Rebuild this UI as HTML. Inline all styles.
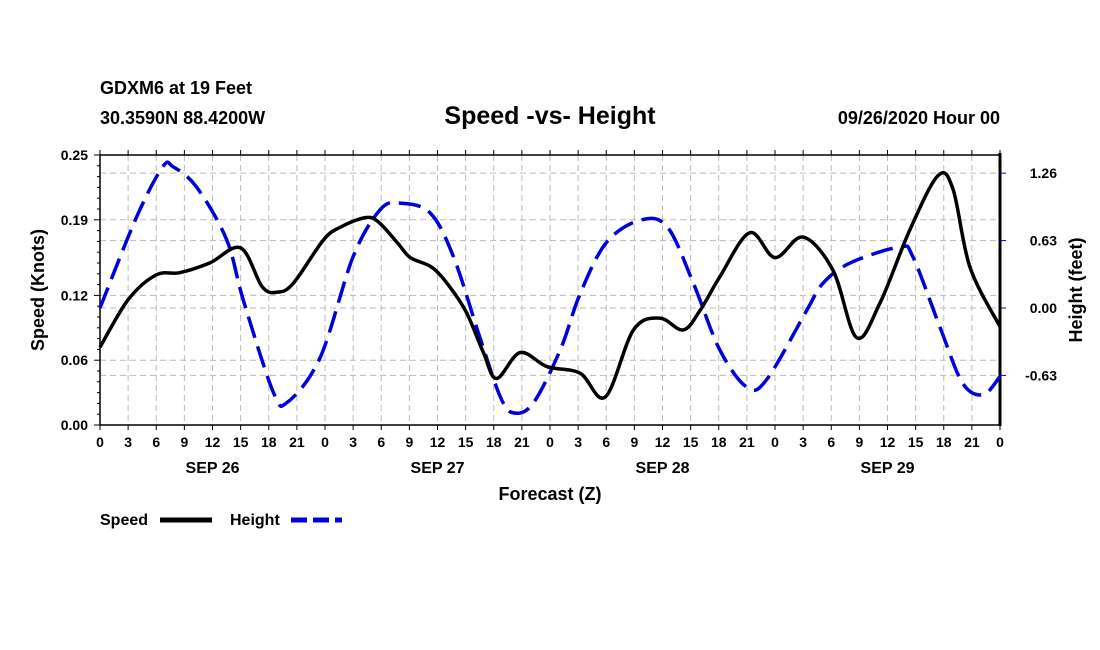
<!DOCTYPE html>
<html><head><meta charset="utf-8"><style>
body{margin:0;background:#fff;}
svg{display:block;font-family:"Liberation Sans",Arial,sans-serif;font-weight:bold;}
</style></head><body>
<svg id="chart" width="1100" height="650" xmlns="http://www.w3.org/2000/svg">
<text x="100" y="94" font-size="18">GDXM6 at 19 Feet</text>
<text x="100" y="124" font-size="18">30.3590N 88.4200W</text>
<text x="550" y="124" font-size="25" text-anchor="middle">Speed -vs- Height</text>
<text x="1000" y="124" font-size="18" text-anchor="end">09/26/2020 Hour 00</text>
<g id="grid"></g>
<g id="axes"></g>
<g id="series"></g>
<text transform="translate(44,290) rotate(-90)" font-size="18" text-anchor="middle">Speed (Knots)</text>
<text transform="translate(1082,290) rotate(-90)" font-size="18" text-anchor="middle">Height (feet)</text>
<text x="550" y="500" font-size="18" text-anchor="middle">Forecast (Z)</text>
<g>
<text x="100" y="525" font-size="16">Speed</text>
<line x1="160" y1="520" x2="212" y2="520" stroke="#000" stroke-width="5"/>
<text x="230" y="525" font-size="16">Height</text>
<line x1="291" y1="520" x2="342" y2="520" stroke="#0000dd" stroke-width="5" stroke-dasharray="16,6"/>
</g>
</svg>
<script>
const speedHours=[0,3,6,8.5,11.7,15,17.3,18.9,20.6,23.8,25.6,28.3,29.7,31.7,33.1,35.4,37.3,39.1,40.9,42.3,44.8,47.7,51.2,53.9,56.9,59.7,62.2,64,66.1,69.3,72,75,78.2,80.7,83.2,86.4,89.4,91,92.8,96];
const speedValues=[0.072,0.116,0.139,0.141,0.150,0.164,0.128,0.123,0.131,0.171,0.183,0.192,0.188,0.169,0.155,0.146,0.128,0.104,0.067,0.043,0.067,0.054,0.048,0.026,0.088,0.099,0.088,0.106,0.137,0.178,0.155,0.174,0.143,0.081,0.113,0.181,0.231,0.218,0.146,0.091];
const heightHours=[0,3.9,6.7,7.8,10.3,13.5,15.3,18.5,20,23.5,27,29.9,32,35.2,37.7,40.5,42.7,44.1,46.2,49.1,51.2,54,57.6,60.5,63.3,66.1,69,71.1,75.4,77.1,80,85.3,86.7,89.6,92,94.2,96];
const heightValues=[0.0,0.85,1.32,1.32,1.13,0.64,0.07,-0.79,-0.88,-0.46,0.48,0.92,0.98,0.89,0.48,-0.27,-0.83,-0.98,-0.89,-0.39,0.13,0.61,0.82,0.76,0.23,-0.39,-0.74,-0.67,-0.02,0.23,0.42,0.57,0.48,-0.18,-0.70,-0.81,-0.64];
const speedTicks=[0.00,0.06,0.12,0.19,0.25];
const speedTickLabels=["0.00","0.06","0.12","0.19","0.25"];
const heightTicks=[-0.63,0,0.63,1.26];
const heightTickLabels=["-0.63","0.00","0.63","1.26"];
const hourTickLabels=["0","3","6","9","12","15","18","21"];
const dayLabels=["SEP 26","SEP 27","SEP 28","SEP 29"];

const X0=100,X1=1000,YT=155,YB=425,H=96;
const xs=h=>X0+(X1-X0)*h/H;
const ySpeed=v=>YB-(YB-YT)*v/0.25;
const yHeight=v=>308-107*v;
const NS="http://www.w3.org/2000/svg";
function mk(tag,attrs,parent,txt){const e=document.createElementNS(NS,tag);for(const k in attrs)e.setAttribute(k,attrs[k]);if(txt!==undefined)e.textContent=txt;parent.appendChild(e);return e;}
const grid=document.getElementById('grid'),axes=document.getElementById('axes'),series=document.getElementById('series');
for(let h=3;h<H;h+=3){const l=mk('line',{x1:xs(h),x2:xs(h),y1:YT,y2:YB,stroke:'#bbb','stroke-dasharray':'6,4'},grid);

}
speedTicks.forEach(v=>{if(v>0&&v<0.25){const l=mk('line',{x1:X0,x2:X1,y1:ySpeed(v),y2:ySpeed(v),stroke:'#bbb','stroke-dasharray':'6,4'},grid);

}});
heightTicks.forEach(v=>{const l=mk('line',{x1:X0,x2:X1,y1:yHeight(v),y2:yHeight(v),stroke:'#bbb','stroke-dasharray':'6,4'},grid);

});
const fr=mk('rect',{x:X0,y:YT,width:X1-X0,height:YB-YT,fill:'none',stroke:'#000','stroke-width':1.5},axes);


const ra=mk('line',{x1:X1,x2:X1,y1:YT-2,y2:YB+1,stroke:'#000','stroke-width':3},axes);


for(let v=0;v<=0.25001;v+=0.01){const major=speedTicks.some(t=>Math.abs(t-v)<1e-6);
const t=mk('line',{x1:X0,x2:X0-(major?6:3),y1:ySpeed(v),y2:ySpeed(v),stroke:'#000','stroke-width':1},axes);

}
speedTicks.forEach((v,i)=>{const t=mk('text',{x:X0-12,y:ySpeed(v)+5,'font-size':14,'text-anchor':'end'},axes,speedTickLabels[i]);

});
heightTicks.forEach((v,i)=>{const l=mk('line',{x1:X1,x2:X1+6,y1:yHeight(v),y2:yHeight(v),stroke:'#00d','stroke-width':1},axes);


const t=mk('text',{x:1057,y:yHeight(v)+5,'font-size':14,'text-anchor':'end'},axes,heightTickLabels[i]);

});
for(let h=0;h<=H;h+=3){
const a=mk('line',{x1:xs(h),x2:xs(h),y1:YB,y2:YB+5,stroke:'#000'},axes);


const b=mk('line',{x1:xs(h),x2:xs(h),y1:YT,y2:YT-5,stroke:'#000'},axes);


const t=mk('text',{x:xs(h),y:YB+22,'font-size':14,'text-anchor':'middle'},axes,hourTickLabels[(h/3)%8]);

}
dayLabels.forEach((d,i)=>{const t=mk('text',{x:xs(i*24+12),y:YB+48,'font-size':16,'text-anchor':'middle'},axes,d);

});
function path(pts){let d=`M${pts[0][0]},${pts[0][1]}`;for(let i=0;i<pts.length-1;i++){const p0=pts[i-1]||pts[i],p1=pts[i],p2=pts[i+1],p3=pts[i+2]||p2;
d+=` C${p1[0]+(p2[0]-p0[0])/6},${p1[1]+(p2[1]-p0[1])/6} ${p2[0]-(p3[0]-p1[0])/6},${p2[1]-(p3[1]-p1[1])/6} ${p2[0]},${p2[1]}`;}return d;}
const hp=mk('path',{d:path(heightHours.map((h,i)=>[xs(h),yHeight(heightValues[i])])),fill:'none',stroke:'#0000dd','stroke-width':3.5,'stroke-dasharray':'22,9'},series);


const sp=mk('path',{d:path(speedHours.map((h,i)=>[xs(h),ySpeed(speedValues[i])])),fill:'none',stroke:'#000','stroke-width':3.5},series);


</script>
</body></html>
